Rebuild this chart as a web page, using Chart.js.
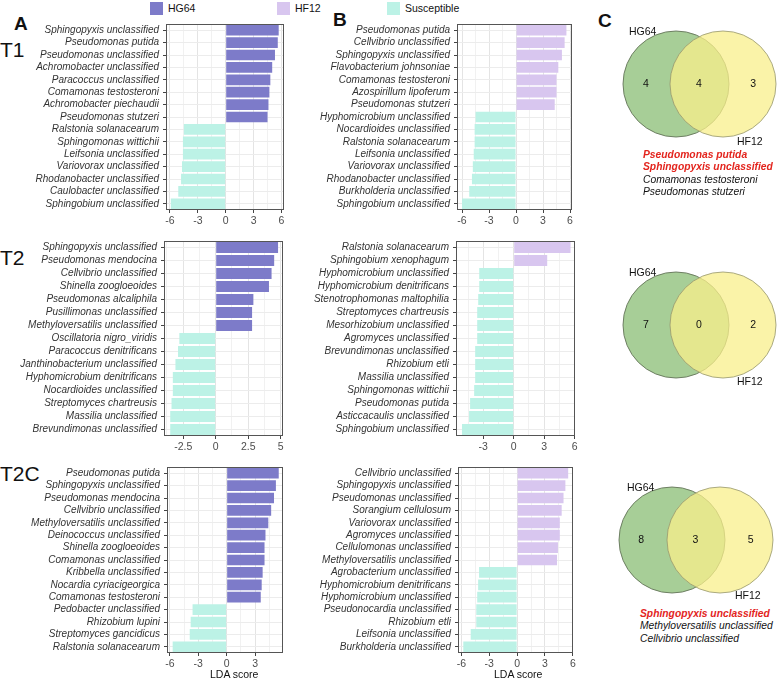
<!DOCTYPE html>
<html>
<head>
<meta charset="utf-8">
<script src="https://cdn.jsdelivr.net/npm/chart.js@4.4.1/dist/chart.umd.min.js"></script>
<style>
  body { margin: 0; width: 778px; height: 678px; position: relative; overflow: hidden; background: #fff;
         font-family: "Liberation Sans", Arial, sans-serif; color: #111; }
  canvas { position: absolute; }
  .txt { position: absolute; white-space: nowrap; line-height: 1; }
  .panel { font-weight: bold; font-size: 19px; }
  .time { font-size: 21px; }
  .key { position: absolute; width: 13px; height: 13px; }
  .lg { font-size: 10.5px; }
  .vl { font-size: 10.5px; }
  .sp { font-size: 10.3px; font-style: italic; line-height: 12.3px; }
  .sp b { color: #e3241d; }
</style>
</head>
<body>

<!-- legend -->
<div class="key" style="left:150px;top:2px;background:#7d7bc9"></div>
<div class="txt lg" style="left:168px;top:3px">HG64</div>
<div class="key" style="left:277px;top:2px;background:#d8c6ef"></div>
<div class="txt lg" style="left:295px;top:3px">HF12</div>
<div class="key" style="left:387px;top:2px;background:#bcf2e6"></div>
<div class="txt lg" style="left:405px;top:3px">Susceptible</div>

<!-- panel letters / time points -->
<div class="txt panel" style="left:14px;top:14px">A</div>
<div class="txt panel" style="left:333px;top:10px">B</div>
<div class="txt panel" style="left:598px;top:11px">C</div>
<div class="txt time" style="left:0;top:39px">T1</div>
<div class="txt time" style="left:0;top:247px">T2</div>
<div class="txt time" style="left:0;top:463px">T2C</div>

<canvas id="t1a"></canvas>
<canvas id="t1b"></canvas>
<canvas id="t2a"></canvas>
<canvas id="t2b"></canvas>
<canvas id="t2ca"></canvas>
<canvas id="t2cb"></canvas>
<canvas id="v1"></canvas>
<canvas id="v2"></canvas>
<canvas id="v3"></canvas>

<div class="txt lg" style="left:210px;top:669px">LDA score</div>
<div class="txt lg" style="left:494px;top:669px">LDA score</div>

<!-- venn set names -->
<div class="txt vl" style="left:629px;top:26px">HG64</div>
<div class="txt vl" style="left:737px;top:136px">HF12</div>
<div class="txt vl" style="left:629px;top:267px">HG64</div>
<div class="txt vl" style="left:737px;top:376px">HF12</div>
<div class="txt vl" style="left:627px;top:482px">HG64</div>
<div class="txt vl" style="left:735px;top:590px">HF12</div>

<div id="shared1" class="txt sp" style="left:643px;top:149px"></div>
<div id="shared3" class="txt sp" style="left:640px;top:608px"></div>

<script>
// ---- data: LEfSe LDA scores ----
const groups = ["HG64", "HF12", "Susceptible"];

// T1, HG64 vs susceptible
const t1aTaxa = ["Sphingopyxis unclassified", "Pseudomonas putida", "Pseudomonas unclassified",
  "Achromobacter unclassified", "Paracoccus unclassified", "Comamonas testosteroni",
  "Achromobacter piechaudii", "Pseudomonas stutzeri", "Ralstonia solanacearum",
  "Sphingomonas wittichii", "Leifsonia unclassified", "Variovorax unclassified",
  "Rhodanobacter unclassified", "Caulobacter unclassified", "Sphingobium unclassified"];
const t1aLDA = [5.7, 5.6, 5.3, 5.0, 4.8, 4.7, 4.6, 4.5, -4.5, -4.6, -4.6, -4.7, -4.8, -5.1, -5.9];

// T1, HF12 vs susceptible
const t1bTaxa = ["Pseudomonas putida", "Cellvibrio unclassified", "Sphingopyxis unclassified",
  "Flavobacterium johnsoniae", "Comamonas testosteroni", "Azospirillum lipoferum",
  "Pseudomonas stutzeri", "Hyphomicrobium unclassified", "Nocardioides unclassified",
  "Ralstonia solanacearum", "Leifsonia unclassified", "Variovorax unclassified",
  "Rhodanobacter unclassified", "Burkholderia unclassified", "Sphingobium unclassified"];
const t1bLDA = [5.6, 5.4, 5.1, 4.7, 4.5, 4.5, 4.3, -4.5, -4.6, -4.6, -4.7, -4.8, -4.9, -5.2, -6.0];

// T2
const t2aTaxa = ["Sphingopyxis unclassified", "Pseudomonas mendocina", "Cellvibrio unclassified",
  "Shinella zoogloeoides", "Pseudomonas alcaliphila", "Pusillimonas unclassified",
  "Methyloversatilis unclassified", "Oscillatoria nigro_viridis", "Paracoccus denitrificans",
  "Janthinobacterium unclassified", "Hyphomicrobium denitrificans", "Nocardioides unclassified",
  "Streptomyces chartreusis", "Massilia unclassified", "Brevundimonas unclassified"];
const t2aLDA = [4.8, 4.5, 4.3, 4.1, 2.9, 2.8, 2.8, -2.8, -2.9, -3.1, -3.3, -3.3, -3.4, -3.5, -3.5];

const t2bTaxa = ["Ralstonia solanacearum", "Sphingobium xenophagum", "Hyphomicrobium unclassified",
  "Hyphomicrobium denitrificans", "Stenotrophomonas maltophilia", "Streptomyces chartreusis",
  "Mesorhizobium unclassified", "Agromyces unclassified", "Brevundimonas unclassified",
  "Rhizobium etli", "Massilia unclassified", "Sphingomonas wittichii", "Pseudomonas putida",
  "Asticcacaulis unclassified", "Sphingobium unclassified"];
const t2bLDA = [5.6, 3.3, -3.4, -3.4, -3.5, -3.6, -3.6, -3.6, -3.8, -3.8, -3.8, -3.9, -4.3, -4.4, -5.1];

// T2C
const t2caTaxa = ["Pseudomonas putida", "Sphingopyxis unclassified", "Pseudomonas mendocina",
  "Cellvibrio unclassified", "Methyloversatilis unclassified", "Deinococcus unclassified",
  "Shinella zoogloeoides", "Comamonas unclassified", "Kribbella unclassified",
  "Nocardia cyriacigeorgica", "Comamonas testosteroni", "Pedobacter unclassified",
  "Rhizobium lupini", "Streptomyces gancidicus", "Ralstonia solanacearum"];
const t2caLDA = [5.5, 5.2, 5.0, 4.7, 4.4, 4.1, 4.0, 4.0, 3.8, 3.7, 3.6, -3.6, -3.8, -3.9, -5.7];

const t2cbTaxa = ["Cellvibrio unclassified", "Sphingopyxis unclassified", "Pseudomonas unclassified",
  "Sorangium cellulosum", "Variovorax unclassified", "Agromyces unclassified",
  "Cellulomonas unclassified", "Methyloversatilis unclassified", "Agrobacterium unclassified",
  "Hyphomicrobium denitrificans", "Hyphomicrobium unclassified", "Pseudonocardia unclassified",
  "Rhizobium etli", "Leifsonia unclassified", "Burkholderia unclassified"];
const t2cbLDA = [5.5, 5.2, 5.0, 4.8, 4.6, 4.6, 4.4, 4.3, -4.1, -4.2, -4.3, -4.4, -4.4, -5.0, -5.8];

// x-axis tick labels per panel
const ticksT1a = [-6, -3, 0, 3, 6];
const ticksT1b = [-6, -3, 0, 3, 6];
const ticksT2a = [-2.5, 0, 2.5, 5];
const ticksT2b = [-3, 0, 3, 6];
const ticksT2ca = [-6, -3, 0, 3];
const ticksT2cb = [-6, -3, 0, 3, 6];

// Venn counts: HG64 only, shared, HF12 only
const vennT1 = [4, 4, 3];
const vennT2 = [7, 0, 2];
const vennT2C = [8, 3, 5];
const sharedT1 = ["Pseudomonas putida", "Sphingopyxis unclassified", "Comamonas testosteroni", "Pseudomonas stutzeri"];
const sharedT1Key = [true, true, false, false];
const sharedT2C = ["Sphingopyxis unclassified", "Methyloversatilis unclassified", "Cellvibrio unclassified"];
const sharedT2CKey = [true, false, false];

const colHG = "#7d7bc9";
const colHF = "#d8c6ef";
const colSus = "#bcf2e6";

Chart.defaults.font.family = '"Liberation Sans", Arial, sans-serif';

// box around the plotting panel (theme_bw look)
const panelBox = {
  id: "panelBox",
  afterDraw(chart) {
    const a = chart.chartArea, ctx = chart.ctx;
    ctx.save();
    ctx.strokeStyle = "#555";
    ctx.lineWidth = 1;
    ctx.strokeRect(Math.round(a.left) + 0.5, Math.round(a.top) + 0.5,
      Math.round(a.right - a.left) - 1, Math.round(a.bottom - a.top) - 1);
    ctx.restore();
  }
};

function isMajor(v, majors) {
  return majors.some(m => Math.abs(m - v) < 1e-6);
}

function makeLda(id, taxa, lda, posColor, majors, box, range, cvLeft, cvWidth) {
  const cv = document.getElementById(id);
  const top = box.top - 6;
  const h = box.bottom - top + 22;
  cv.width = cvWidth; cv.height = h;
  cv.style.left = cvLeft + "px"; cv.style.top = top + "px";

  // minor grid lines half way between majors (like ggplot)
  const step = majors[1] - majors[0];
  const all = [];
  for (let v = majors[0] - step / 2; v <= majors[majors.length - 1] + step / 2 + 1e-6; v += step / 2) {
    if (v >= range[0] && v <= range[1]) all.push(Math.round(v * 100) / 100);
  }

  new Chart(cv, {
    type: "bar",
    data: {
      labels: taxa,
      datasets: [{
        data: lda,
        backgroundColor: lda.map(v => v > 0 ? posColor : colSus),
        borderWidth: 0,
        categoryPercentage: 0.86,
        barPercentage: 1
      }]
    },
    options: {
      indexAxis: "y",
      responsive: false,
      animation: false,
      layout: { padding: { top: 6, right: cvLeft + cvWidth - box.right, left: 0, bottom: 0 } },
      plugins: { legend: { display: false }, tooltip: { enabled: false } },
      scales: {
        x: {
          type: "linear",
          min: range[0],
          max: range[1],
          afterBuildTicks: s => { s.ticks = all.map(v => ({ value: v })); },
          afterFit: s => { s.height = 22; },
          border: { display: false },
          grid: {
            color: c => isMajor(c.tick.value, majors) ? "#e4e4e4" : "#f1f1f1",
            tickColor: c => isMajor(c.tick.value, majors) ? "#444" : "rgba(0,0,0,0)",
            tickLength: 3
          },
          ticks: {
            autoSkip: false, maxRotation: 0, padding: 2,
            color: "#4d4d4d",
            font: { size: 10.5 },
            callback: v => isMajor(v, majors) ? String(v) : ""
          }
        },
        y: {
          afterFit: s => { s.width = box.left - cvLeft; },
          border: { display: false },
          grid: { offset: false, color: "#ececec", tickColor: "#444", tickLength: 3 },
          ticks: {
            autoSkip: false, padding: 4,
            color: "#333",
            font: { size: 10, style: "italic" }
          }
        }
      }
    },
    plugins: [panelBox]
  });
}

makeLda("t1a", t1aTaxa, t1aLDA, colHG, ticksT1a, { left: 166, right: 284, top: 20, bottom: 210 }, [-6.42, 6.27], 0, 292);
makeLda("t1b", t1bTaxa, t1bLDA, colHF, ticksT1b, { left: 457, right: 572, top: 20, bottom: 210 }, [-6.56, 6.22], 290, 292);
makeLda("t2a", t2aTaxa, t2aLDA, colHG, ticksT2a, { left: 164, right: 283, top: 237, bottom: 436 }, [-3.98, 5.18], 0, 292);
makeLda("t2b", t2bTaxa, t2bLDA, colHF, ticksT2b, { left: 456, right: 575, top: 237, bottom: 436 }, [-5.69, 6.04], 290, 292);
makeLda("t2ca", t2caTaxa, t2caLDA, colHG, ticksT2ca, { left: 167, right: 283, top: 463, bottom: 653 }, [-6.3, 5.95], 0, 292);
makeLda("t2cb", t2cbTaxa, t2cbLDA, colHF, ticksT2cb, { left: 458, right: 573, top: 463, bottom: 653 }, [-6.37, 6.02], 290, 292);

// ---- Venn diagrams (two circles as scatter points) ----
const vennCounts = {
  id: "vennCounts",
  afterDatasetsDraw(chart, args, opts) {
    const xs = chart.scales.x, ys = chart.scales.y, ctx = chart.ctx;
    const pos = [-0.64, 0.49, 1.64];
    ctx.save();
    ctx.fillStyle = "#111";
    ctx.font = '10.5px "Liberation Sans", Arial, sans-serif';
    ctx.textAlign = "center";
    ctx.textBaseline = "middle";
    opts.counts.forEach((n, i) => ctx.fillText(String(n), xs.getPixelForValue(pos[i]), ys.getPixelForValue(0)));
    ctx.restore();
  }
};

function makeVenn(id, counts, cy, cxLeft, gap) {
  const cv = document.getElementById(id);
  const left = 590, w = 188, h = 124;
  cv.width = w; cv.height = h;
  cv.style.left = left + "px"; cv.style.top = (cy - h / 2) + "px";
  const xmin = -(cxLeft - left) / gap;
  new Chart(cv, {
    type: "scatter",
    data: {
      // HF12 listed first: Chart.js paints dataset 0 last, so yellow sits over green
      datasets: [
        { label: groups[1], data: [{ x: 1, y: 0 }], backgroundColor: "rgba(248,239,139,0.75)", borderColor: "rgba(150,150,110,0.8)" },
        { label: groups[0], data: [{ x: 0, y: 0 }], backgroundColor: "rgb(167,206,151)", borderColor: "rgba(95,110,85,0.85)" }
      ]
    },
    options: {
      responsive: false,
      animation: false,
      clip: false,
      elements: { point: { radius: 53, hoverRadius: 53, borderWidth: 1 } },
      layout: { padding: 0, autoPadding: false },
      plugins: { legend: { display: false }, tooltip: { enabled: false }, vennCounts: { counts: counts } },
      scales: {
        x: { display: false, min: xmin, max: xmin + w / gap },
        y: { display: false, min: -1, max: 1 }
      }
    },
    plugins: [vennCounts]
  });
}

makeVenn("v1", vennT1, 84, 676, 47);
makeVenn("v2", vennT2, 325, 676, 47);
makeVenn("v3", vennT2C, 540, 672, 48);

function fillShared(id, names, key) {
  document.getElementById(id).innerHTML = names
    .map((n, i) => key[i] ? "<b>" + n + "</b>" : n)
    .join("<br>");
}
fillShared("shared1", sharedT1, sharedT1Key);
fillShared("shared3", sharedT2C, sharedT2CKey);
</script>
</body>
</html>
